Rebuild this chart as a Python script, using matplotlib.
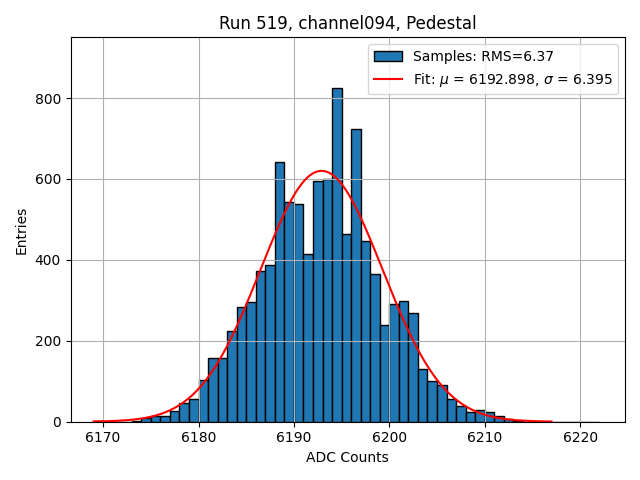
import numpy as np
import matplotlib
matplotlib.use("Agg")
import matplotlib.pyplot as plt

# pedestal histogram, integer ADC bins (left edges)
bin_left = np.arange(6169, 6222)
counts = [2, 0, 0, 0, 3, 8, 13, 13, 27, 46,
          56, 104, 157, 157, 223, 283, 295, 372, 387, 642,
          544, 537, 415, 594, 601, 826, 463, 724, 446, 365,
          239, 291, 299, 268, 130, 100, 90, 56, 38, 23,
          28, 24, 14, 7, 3, 0, 0, 0, 0, 0,
          0, 0, 0]

rms = 6.37
mu = 6192.898
sigma = 6.395
amp = 620.0
fit_lo, fit_hi = 6169, 6217

edges = np.append(bin_left, bin_left[-1] + 1)

fig, ax = plt.subplots(figsize=(6.4, 4.8), dpi=100)
ax.hist(bin_left + 0.5, bins=edges, weights=counts, edgecolor="black",
        label="Samples: RMS=%.2f" % rms)

xf = np.linspace(fit_lo, fit_hi, 200)
ax.plot(xf, amp * np.exp(-0.5 * ((xf - mu) / sigma) ** 2), color="red",
        label=r"Fit: $\mu$ = %.3f, $\sigma$ = %.3f" % (mu, sigma))

ax.set_xlim(6166.6, 6224.7)
ax.set_ylim(0, 950)
ax.set_title("Run 519, channel094, Pedestal")
ax.set_xlabel("ADC Counts")
ax.set_ylabel("Entries")
ax.grid(True)
ax.legend(loc="upper right")

fig.tight_layout()
fig.savefig("out.png")
